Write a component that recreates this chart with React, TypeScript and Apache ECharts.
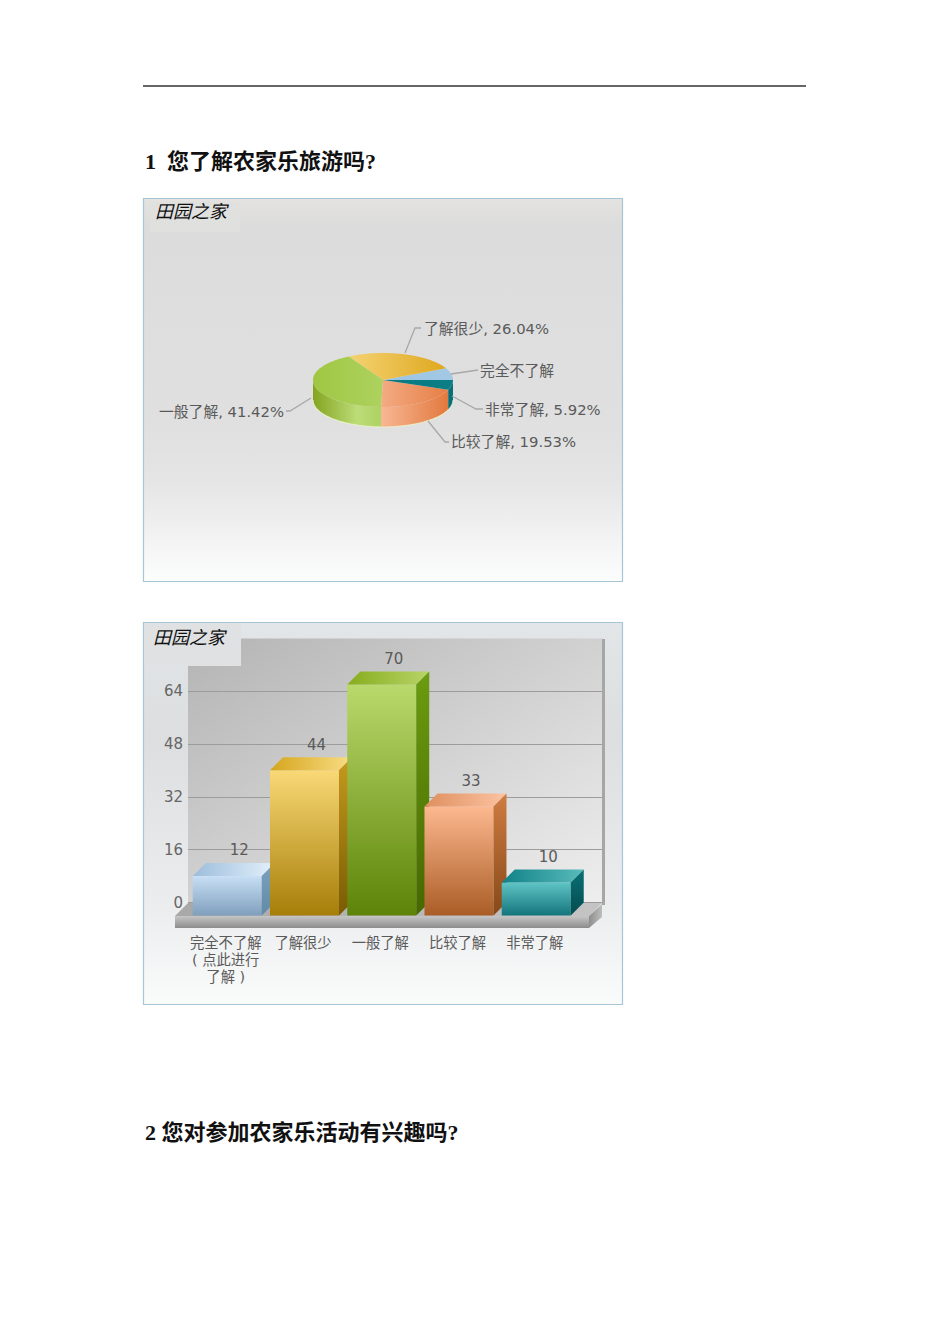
import React, { useEffect, useRef } from "react";
import * as echarts from "echarts";

const categories = ["完全不了解", "了解很少", "一般了解", "比较了解", "非常了解"];
const axisCategories = ["完全不了解\n( 点此进行\n了解 )", "了解很少", "一般了解", "比较了解", "非常了解"];
const counts = [12, 44, 70, 33, 10];
const showPercent = [false, true, true, true, true];
const heading1 = "1  您了解农家乐旅游吗?";
const heading2 = "2 您对参加农家乐活动有兴趣吗?";
const logoText = "田园之家";

const total = counts.reduce((a, b) => a + b, 0);
const SANS = '"DejaVu Sans","Noto Sans CJK SC",sans-serif';
const HEAD = '"Liberation Serif","Noto Sans CJK SC",serif';
const TEXT = "#5a5a5a";

const lin = (x: number, y: number, x2: number, y2: number, a: string, b: string, mid?: string) => ({
  type: "linear", x, y, x2, y2, global: false,
  colorStops: mid
    ? [{ offset: 0, color: a }, { offset: 0.65, color: mid }, { offset: 1, color: b }]
    : [{ offset: 0, color: a }, { offset: 1, color: b }],
});

// bar colours: front top/bottom, lid left/right, side top/bottom
const barStyles = [
  ["#c8dff5", "#7f9fbd", "#9dbddb", "#e2f0fc", "#7ea2bf", "#5f8aa6"],
  ["#f9d976", "#a67e08", "#d5a51c", "#f9de86", "#c69a1c", "#7a5b04"],
  ["#bad96c", "#5d8408", "#86ad1c", "#b8d468", "#6b9c10", "#466800"],
  ["#fdb88f", "#aa5d26", "#df8f5e", "#fcc3a2", "#cf7d42", "#874818"],
  ["#5fc4c6", "#13757b", "#0f8288", "#5abbbb", "#0a7076", "#034c50"],
];
// pie colours: top left/right, side left/right, side middle
const pieStyles = [
  ["#9cc4e2", "#a2c8e4", "#8ab4d2", "#8ab4d2", ""],
  ["#f4d272", "#dfa81e", "#c89a20", "#c89a20", ""],
  ["#9fc743", "#aed25f", "#84a420", "#aed263", "#bcdc78"],
  ["#f4ab84", "#e67e44", "#f8b794", "#e2793e", ""],
  ["#0b7a82", "#0c7e86", "#0a6e76", "#0a6e76", ""],
];
// leader line elbows and label anchors for the pie
const pieLabels: any[] = [
  { line: [[451, 374], [478, 370]], x: 480, y: 370.5, align: "left" },
  { line: [[405, 353], [415, 328], [421, 328]], x: 424, y: 328.5, align: "left" },
  { line: [[311, 398], [290, 411], [286, 411]], x: 284, y: 411.5, align: "right" },
  { line: [[428, 421], [445, 442], [449, 442]], x: 451, y: 441.5, align: "left" },
  { line: [[452, 396], [476, 409], [483, 409]], x: 485, y: 409.5, align: "left" },
];
const PIE = { cx: 383, cy: 380, rx: 70, ry: 27, depth: 20 };

function arc(a0: number, a1: number, dy = 0) {
  const pts: number[][] = [];
  const n = Math.max(2, Math.ceil(Math.abs(a1 - a0) / 2));
  for (let i = 0; i <= n; i++) {
    const a = ((a0 + ((a1 - a0) * i) / n) * Math.PI) / 180;
    pts.push([PIE.cx + PIE.rx * Math.cos(a), PIE.cy - PIE.ry * Math.sin(a) + dy]);
  }
  return pts;
}

function renderPie(params: any, api: any) {
  const i = params.dataIndex;
  const before = counts.slice(0, i).reduce((a, b) => a + b, 0);
  const a0 = (before / total) * 360;
  const a1 = ((before + api.value(0)) / total) * 360;
  const st = pieStyles[i];
  const children: any[] = [];
  const s0 = Math.max(a0, 180);
  if (a1 > s0) {
    const upper = arc(s0, a1);
    const lower = arc(a1, s0, PIE.depth);
    children.push({
      type: "polygon",
      shape: { points: upper.concat(lower) },
      style: { fill: lin(0, 0, 1, 0, st[2], st[3], st[4] || undefined) },
    });
    children.push({
      type: "polyline",
      shape: { points: lower },
      style: { stroke: "rgba(238,246,205,0.75)", lineWidth: 1.2, fill: "none" },
    });
  }
  children.push({
    type: "polygon",
    shape: { points: [[PIE.cx, PIE.cy]].concat(arc(a0, a1)) },
    style: { fill: lin(0, 0, 1, 0, st[0], st[1]) },
  });
  const lab = pieLabels[i];
  children.push({
    type: "polyline",
    shape: { points: lab.line },
    style: { stroke: "#a8a8a8", lineWidth: 1.3, fill: "none" },
    z2: 5,
  });
  const pct = ((api.value(0) / total) * 100).toFixed(2);
  children.push({
    type: "text",
    z2: 6,
    style: {
      text: showPercent[i] ? `${categories[i]}, ${pct}%` : categories[i],
      x: lab.x, y: lab.y, fill: TEXT, fontSize: 14.8, fontFamily: SANS,
      textAlign: lab.align, textVerticalAlign: "middle",
    },
  });
  return { type: "group", children };
}

function renderBar(params: any, api: any) {
  const i = params.dataIndex;
  const [cx, top] = api.coord([api.value(0), api.value(1)]);
  const [, base] = api.coord([api.value(0), 0]);
  const hw = 34.5, d = 13;
  const l = cx - hw, r = cx + hw, ft = top + d, fb = base + d;
  const st = barStyles[i];
  return {
    type: "group",
    children: [
      { type: "rect", shape: { x: l, y: ft, width: r - l, height: fb - ft }, style: { fill: lin(0, 0, 0, 1, st[0], st[1]) } },
      { type: "polygon", shape: { points: [[l, ft], [l + d, top], [r + d, top], [r, ft]] }, style: { fill: lin(0, 0, 1, 0, st[2], st[3]) } },
      { type: "polygon", shape: { points: [[r, ft], [r + d, top], [r + d, base], [r, fb]] }, style: { fill: lin(0, 0, 0, 1, st[4], st[5]) } },
      {
        type: "text",
        style: {
          text: String(api.value(1)), x: cx + 12, y: top - 12.5, fill: TEXT, fontSize: 15,
          fontFamily: SANS, textAlign: "center", textVerticalAlign: "middle",
        },
      },
    ],
  };
}

const panel = (y: number, h: number, stops: any[]) => ({
  type: "rect", z: -5,
  shape: { x: 143.5, y: y + 0.5, width: 479, height: h },
  style: {
    fill: { type: "linear", x: 0, y: 0, x2: 0, y2: 1, global: false, colorStops: stops },
    stroke: "#a6c6d8", lineWidth: 1.2,
  },
});

const option: any = {
  animation: false,
  backgroundColor: "#ffffff",
  tooltip: { show: false },
  grid: [
    { left: 188, width: 414, top: 638.5, height: 264, show: true, borderWidth: 0, z: 0,
      backgroundColor: lin(0, 0, 1, 1, "#b4b4b4", "#eeeeee") },
    { left: 188.6, width: 386.25, top: 638.5, height: 264 },
  ],
  xAxis: [
    { gridIndex: 0, type: "value", min: 0, max: 1, show: false },
    {
      gridIndex: 1, type: "category", data: axisCategories,
      axisLine: { show: false }, axisTick: { show: false },
      axisLabel: { margin: 32, interval: 0, fontSize: 14.3, lineHeight: 17, color: TEXT, fontFamily: SANS, padding: [0, 3, 0, 0] },
    },
  ],
  yAxis: [
    {
      gridIndex: 0, type: "value", min: 0, max: 80, interval: 16,
      axisLine: { show: false }, axisTick: { show: false },
      axisLabel: { margin: 5, fontSize: 15, color: "#666666", fontFamily: SANS, showMaxLabel: false, padding: [0, 0, 0, 0], lineHeight: 19, verticalAlignMinLabel: "middle" },
      splitLine: { show: true, showMaxLine: false, lineStyle: { color: "#9c9c9c", width: 1.2 } },
    },
    { gridIndex: 1, type: "value", min: 0, max: 80, interval: 16, show: false, splitLine: { show: false } },
  ],
  graphic: [
    { type: "line", shape: { x1: 143, y1: 86, x2: 806, y2: 86 }, style: { stroke: "#333333", lineWidth: 1.5 } },
    { type: "text", x: 145, y: 161, style: { text: heading1, fontFamily: HEAD, fontWeight: "bold", fontSize: 22, fill: "#111", textVerticalAlign: "middle" } },
    { type: "text", x: 145, y: 1132, style: { text: heading2, fontFamily: HEAD, fontWeight: "bold", fontSize: 22, fill: "#111", textVerticalAlign: "middle" } },
    panel(198, 383, [
      { offset: 0, color: "#e4e3e0" }, { offset: 0.07, color: "#dcdcdc" },
      { offset: 0.6, color: "#e0e0e0" }, { offset: 0.736, color: "#e5e5e5" },
      { offset: 0.84, color: "#eeeeee" }, { offset: 0.92, color: "#f6f6f6" },
      { offset: 1, color: "#fcfdfd" },
    ]),
    { type: "rect", z: -4, shape: { x: 150, y: 202, width: 90, height: 30 }, style: { fill: "#e0e0df" } },
    { type: "text", z: 10, x: 155, y: 211, style: { text: logoText, fontFamily: SANS, fontStyle: "italic", fontSize: 18, fill: "#111", textVerticalAlign: "middle" } },
    panel(622, 382, [
      { offset: 0, color: "#e2e6e8" }, { offset: 0.3, color: "#dcdedf" },
      { offset: 0.75, color: "#ecedee" }, { offset: 1, color: "#fafbfb" },
    ]),
    { type: "rect", z: 8, shape: { x: 144, y: 623, width: 97, height: 43 }, style: { fill: "#dfe1e2" } },
    { type: "text", z: 10, x: 153, y: 637, style: { text: logoText, fontFamily: SANS, fontStyle: "italic", fontSize: 18, fill: "#111", textVerticalAlign: "middle" } },
    { type: "rect", z: 1, shape: { x: 602, y: 639, width: 3, height: 266 }, style: { fill: "#a6a6a6" } },
    { type: "polygon", z: 1, shape: { points: [[175, 916], [188, 903], [602, 903], [589, 916]] }, style: { fill: lin(0, 0, 1, 0, "#a8a8a8", "#c4c4c4") } },
    { type: "polygon", z: 1, shape: { points: [[589, 916], [602, 904], [602, 917], [589, 928]] }, style: { fill: lin(0, 0, 1, 0, "#8e8e8e", "#bdbdbd") } },
    { type: "rect", z: 1, shape: { x: 175, y: 916, width: 414, height: 12 }, style: { fill: lin(0, 0, 0, 1, "#c6c6c6", "#8c8c8c") } },
  ],
  series: [
    {
      type: "custom", coordinateSystem: "none", silent: true, z: 3,
      data: counts.map((v) => [v]), renderItem: renderPie,
    },
    {
      type: "custom", coordinateSystem: "cartesian2d", xAxisIndex: 1, yAxisIndex: 1, silent: true, z: 3,
      encode: { x: 0, y: 1 },
      data: counts.map((v, i) => [i, v]), renderItem: renderBar, clip: false,
    },
  ],
};

export default function App() {
  const ref = useRef<HTMLDivElement>(null);
  useEffect(() => {
    const chart = echarts.init(ref.current!, undefined, { renderer: "svg" });
    chart.setOption(option);
    return () => chart.dispose();
  }, []);
  return <div ref={ref} style={{ position: "absolute", left: 0, top: 0, width: 950, height: 1344 }} />;
}
